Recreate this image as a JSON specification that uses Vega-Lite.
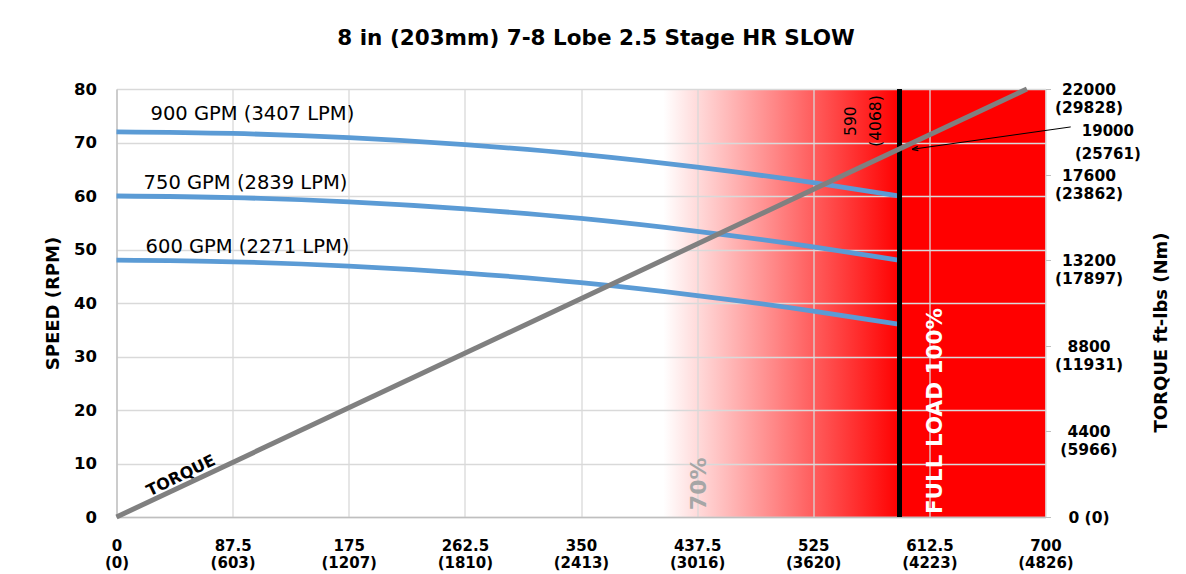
{
  "$schema": "https://vega.github.io/schema/vega-lite/v6.json",
  "width": 929,
  "height": 428,
  "autosize": {"type": "none"},
  "padding": {"left": 116.5, "top": 89, "right": 140.5, "bottom": 57},
  "background": "white",
  "view": {
    "stroke": null,
    "fill": {
      "gradient": "linear",
      "x1": 0, "y1": 0, "x2": 1, "y2": 0,
      "stops": [
        {"offset": 0, "color": "#ffffff"},
        {"offset": 0.5886, "color": "#ffffff"},
        {"offset": 0.8429, "color": "#ff0000"},
        {"offset": 1, "color": "#ff0000"}
      ]
    }
  },
  "title": {
    "text": "8 in (203mm) 7-8 Lobe 2.5 Stage HR SLOW",
    "font": "DejaVu Sans",
    "fontSize": 21.5,
    "fontWeight": "bold",
    "color": "#000000",
    "anchor": "middle",
    "dx": 15,
    "offset": 30
  },
  "config": {
    "font": "DejaVu Sans",
    "text": {"font": "DejaVu Sans"},
    "axis": {"labelFont": "DejaVu Sans", "titleFont": "DejaVu Sans"}
  },
  "layer": [
    {
      "layer": [
        {
          "data": {
            "values": [
              {"series": "900", "x": 0, "speed": 72},
              {"series": "900", "x": 87.5, "speed": 71.7},
              {"series": "900", "x": 175, "speed": 70.9},
              {"series": "900", "x": 262.5, "speed": 69.6},
              {"series": "900", "x": 350, "speed": 67.8},
              {"series": "900", "x": 437.5, "speed": 65.4},
              {"series": "900", "x": 525, "speed": 62.5},
              {"series": "900", "x": 590, "speed": 60},
              {"series": "750", "x": 0, "speed": 60},
              {"series": "750", "x": 87.5, "speed": 59.7},
              {"series": "750", "x": 175, "speed": 58.9},
              {"series": "750", "x": 262.5, "speed": 57.6},
              {"series": "750", "x": 350, "speed": 55.8},
              {"series": "750", "x": 437.5, "speed": 53.4},
              {"series": "750", "x": 525, "speed": 50.5},
              {"series": "750", "x": 590, "speed": 48},
              {"series": "600", "x": 0, "speed": 48},
              {"series": "600", "x": 87.5, "speed": 47.7},
              {"series": "600", "x": 175, "speed": 46.9},
              {"series": "600", "x": 262.5, "speed": 45.6},
              {"series": "600", "x": 350, "speed": 43.8},
              {"series": "600", "x": 437.5, "speed": 41.4},
              {"series": "600", "x": 525, "speed": 38.5},
              {"series": "600", "x": 590, "speed": 36}
            ]
          },
          "mark": {"type": "line", "color": "#5B9BD5", "strokeWidth": 4.8, "interpolate": "monotone"},
          "encoding": {
            "x": {
              "field": "x", "type": "quantitative",
              "scale": {"domain": [0, 700], "nice": false, "zero": false},
              "axis": {
                "title": null,
                "values": [0, 87.5, 175, 262.5, 350, 437.5, 525, 612.5, 700],
                "ticks": false,
                "labelPadding": 21,
                "labelBaseline": "top",
                "labelLineHeight": 17.5,
                "labelFontSize": 15,
                "labelFontWeight": "bold",
                "labelColor": "#000000",
                "labelFlush": false,
                "labelOverlap": false,
                "labelBound": false,
                "labelExpr": "datum.value==0?['0','(0)']:datum.value==87.5?['87.5','(603)']:datum.value==175?['175','(1207)']:datum.value==262.5?['262.5','(1810)']:datum.value==350?['350','(2413)']:datum.value==437.5?['437.5','(3016)']:datum.value==525?['525','(3620)']:datum.value==612.5?['612.5','(4223)']:['700','(4826)']",
                "grid": true,
                "gridColor": "#d9d9d9",
                "gridWidth": 1.3,
                "domainColor": "#bfbfbf",
                "domainWidth": 1.3
              }
            },
            "y": {
              "field": "speed", "type": "quantitative",
              "scale": {"domain": [0, 80], "nice": false, "zero": false},
              "axis": {
                "title": "SPEED (RPM)",
                "values": [0, 10, 20, 30, 40, 50, 60, 70, 80],
                "ticks": false,
                "labelPadding": 20,
                "labelFontSize": 16.5,
                "labelFontWeight": "bold",
                "labelColor": "#000000",
                "grid": true,
                "gridColor": "#d9d9d9",
                "gridWidth": 1.3,
                "domainColor": "#bfbfbf",
                "domainWidth": 1.3,
                "titleFontSize": 18,
                "titleFontWeight": "bold",
                "titleColor": "#000000",
                "titleX": -63,
                "titleY": 214,
                "titleAngle": 270,
                "titleAlign": "center",
                "titleBaseline": "middle"
              }
            },
            "detail": {"field": "series"}
          }
        },
        {
          "data": {
            "values": [
              {"x": 25.6, "speed": 75.3, "label": "900 GPM (3407 LPM)"},
              {"x": 20.4, "speed": 62.4, "label": "750 GPM (2839 LPM)"},
              {"x": 21.9, "speed": 50.5, "label": "600 GPM (2271 LPM)"}
            ]
          },
          "mark": {"type": "text", "align": "left", "baseline": "middle", "fontSize": 19.5, "color": "#000000"},
          "encoding": {
            "x": {"field": "x", "type": "quantitative"},
            "y": {"field": "speed", "type": "quantitative"},
            "text": {"field": "label"}
          }
        },
        {
          "data": {"values": [{"x": 590}]},
          "mark": {"type": "rule", "color": "#000000", "strokeWidth": 5},
          "encoding": {
            "x": {"field": "x", "type": "quantitative"}
          }
        },
        {
          "data": {
            "values": [
              {"x": 553.6, "speed": 74.0, "label": "590"},
              {"x": 572.4, "speed": 74.0, "label": "(4068)"}
            ]
          },
          "mark": {"type": "text", "align": "center", "baseline": "middle", "angle": 270, "fontSize": 15.5, "color": "#000000"},
          "encoding": {
            "x": {"field": "x", "type": "quantitative"},
            "y": {"field": "speed", "type": "quantitative"},
            "text": {"field": "label"}
          }
        },
        {
          "data": {"values": [{"x": 438.9, "speed": 6.2, "label": "70%"}]},
          "mark": {"type": "text", "align": "center", "baseline": "middle", "angle": 270, "fontSize": 22, "fontWeight": "bold", "color": "#a6a6a6"},
          "encoding": {
            "x": {"field": "x", "type": "quantitative"},
            "y": {"field": "speed", "type": "quantitative"},
            "text": {"field": "label"}
          }
        },
        {
          "data": {"values": [{"x": 617.5, "speed": 19.8, "label": "FULL LOAD 100%"}]},
          "mark": {"type": "text", "align": "center", "baseline": "middle", "angle": 270, "fontSize": 21.5, "fontWeight": "bold", "color": "#ffffff"},
          "encoding": {
            "x": {"field": "x", "type": "quantitative"},
            "y": {"field": "speed", "type": "quantitative"},
            "text": {"field": "label"}
          }
        },
        {
          "data": {"values": [{"x": 48.6, "speed": 7.7, "label": "TORQUE"}]},
          "mark": {"type": "text", "align": "center", "baseline": "middle", "angle": 334, "fontSize": 16, "fontWeight": "bold", "color": "#000000"},
          "encoding": {
            "x": {"field": "x", "type": "quantitative"},
            "y": {"field": "speed", "type": "quantitative"},
            "text": {"field": "label"}
          }
        }
      ]
    },
    {
      "layer": [
        {
          "data": {
            "values": [
              {"x": 0, "torque": 0},
              {"x": 686, "torque": 22000}
            ]
          },
          "mark": {"type": "line", "color": "#808080", "strokeWidth": 5},
          "encoding": {
            "x": {"field": "x", "type": "quantitative"},
            "y": {
              "field": "torque", "type": "quantitative",
              "scale": {"domain": [0, 22000], "nice": false, "zero": false},
              "axis": {
                "orient": "right",
                "title": "TORQUE ft-lbs (Nm)",
                "values": [0, 4400, 8800, 13200, 17600, 22000],
                "tickSize": 5,
                "tickColor": "#bfbfbf",
                "labelPadding": 38,
                "labelAlign": "center",
                "labelBaseline": "top",
                "labelOffset": -6.5,
                "labelLineHeight": 18,
                "labelFontSize": 15.5,
                "labelFontWeight": "bold",
                "labelColor": "#000000",
                "labelOverlap": false,
                "labelBound": false,
                "labelFlush": false,
                "labelExpr": "datum.value==0?'0 (0)':datum.value==4400?['4400','(5966)']:datum.value==8800?['8800','(11931)']:datum.value==13200?['13200','(17897)']:datum.value==17600?['17600','(23862)']:['22000','(29828)']",
                "grid": false,
                "domain": false,
                "titleFontSize": 18,
                "titleFontWeight": "bold",
                "titleColor": "#000000",
                "titleX": 116,
                "titleY": 243,
                "titleAngle": 270,
                "titleAlign": "center",
                "titleBaseline": "middle"
              }
            }
          }
        },
        {
          "data": {"values": [{"x": 719, "torque": 20050, "x2": 599.5, "torque2": 18900}]},
          "mark": {"type": "rule", "color": "#000000", "strokeWidth": 1},
          "encoding": {
            "x": {"field": "x", "type": "quantitative"},
            "y": {"field": "torque", "type": "quantitative"},
            "x2": {"field": "x2"},
            "y2": {"field": "torque2"}
          }
        },
        {
          "data": {"values": [{"x": 599.5, "torque": 18900}]},
          "mark": {"type": "point", "shape": "M0,0L2,-0.7M0,0L2,0.7", "size": 36, "angle": 352, "filled": false, "stroke": "#000000", "strokeWidth": 1.2, "opacity": 1},
          "encoding": {
            "x": {"field": "x", "type": "quantitative"},
            "y": {"field": "torque", "type": "quantitative"}
          }
        },
        {
          "data": {
            "values": [
              {"x": 747, "torque": 19841, "label": "19000"},
              {"x": 747, "torque": 18659, "label": "(25761)"}
            ]
          },
          "mark": {"type": "text", "align": "center", "baseline": "middle", "fontSize": 15, "fontWeight": "bold", "color": "#000000"},
          "encoding": {
            "x": {"field": "x", "type": "quantitative"},
            "y": {"field": "torque", "type": "quantitative"},
            "text": {"field": "label"}
          }
        }
      ]
    }
  ],
  "resolve": {"scale": {"y": "independent"}}
}
